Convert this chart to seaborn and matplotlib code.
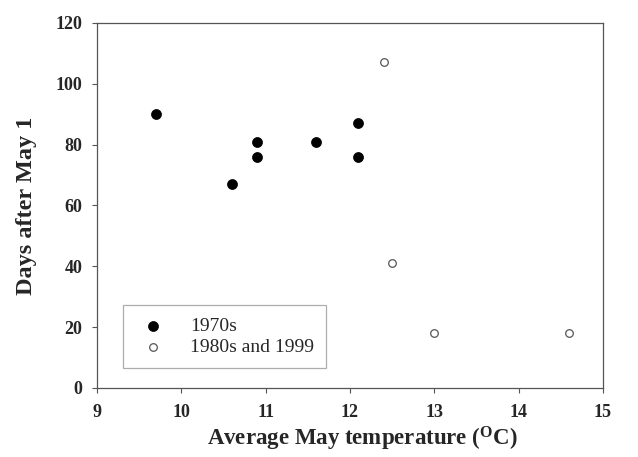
import numpy as np
import pandas as pd
import matplotlib
matplotlib.use("Agg")
from matplotlib import pyplot as plt
import seaborn as sns

# 1970s (filled)
temp_70s = [9.7, 10.6, 10.9, 10.9, 11.6, 12.1, 12.1]
days_70s = [90, 67, 81, 76, 81, 87, 76]
# 1980s and 1999 (open)
temp_80s = [12.4, 12.5, 13.0, 14.6]
days_80s = [107, 41, 18, 18]

x_ticks = [9, 10, 11, 12, 13, 14, 15]
y_ticks = [0, 20, 40, 60, 80, 100, 120]

sns.set_style("white")
plt.rcParams['font.family'] = ['Liberation Serif', 'DejaVu Serif']

df70 = pd.DataFrame({'temp': temp_70s, 'days': days_70s})
df80 = pd.DataFrame({'temp': temp_80s, 'days': days_80s})

fig = plt.figure(figsize=(6.38, 4.57), dpi=100)
ax = fig.add_axes([0.152, 0.151, 0.793, 0.799])

sns.scatterplot(data=df70, x='temp', y='days', ax=ax, s=52, color='black',
                edgecolor='black', linewidth=0.5, label='1970s')
sns.scatterplot(data=df80, x='temp', y='days', ax=ax, s=30, facecolor='white',
                edgecolor='#555555', linewidth=0.9, label='1980s and 1999')

ax.set_xlim(9, 15)
ax.set_ylim(0, 120)
ax.set_xticks(x_ticks)
ax.set_yticks(y_ticks)
ax.tick_params(axis='both', direction='out', length=3.6, width=0.8,
               color='#555555', labelsize=13, bottom=True, left=True)
ax.tick_params(axis='x', pad=8)
ax.tick_params(axis='y', pad=7)
for lab in ax.get_xticklabels() + ax.get_yticklabels():
    lab.set_fontweight('bold')

for sp in ax.spines.values():
    sp.set_color('#555555')
    sp.set_linewidth(0.9)

ax.set_xlabel('Average May temperature ($\\mathregular{^{O}}$C)', fontsize=16.5,
              fontweight='bold', labelpad=3)
ax.xaxis.label.set_x(0.525)
ax.set_ylabel('Days after May 1', fontsize=17.5, fontweight='bold', labelpad=13)

leg = ax.legend(loc='lower left', bbox_to_anchor=(0.051, 0.055), fontsize=14,
                frameon=True, fancybox=False, borderpad=0.6, handletextpad=0.95,
                labelspacing=0.2, borderaxespad=0, handlelength=1.9)
leg.get_frame().set_edgecolor('#999999')
leg.get_frame().set_linewidth(0.9)

plt.savefig('out.png', dpi=100)
